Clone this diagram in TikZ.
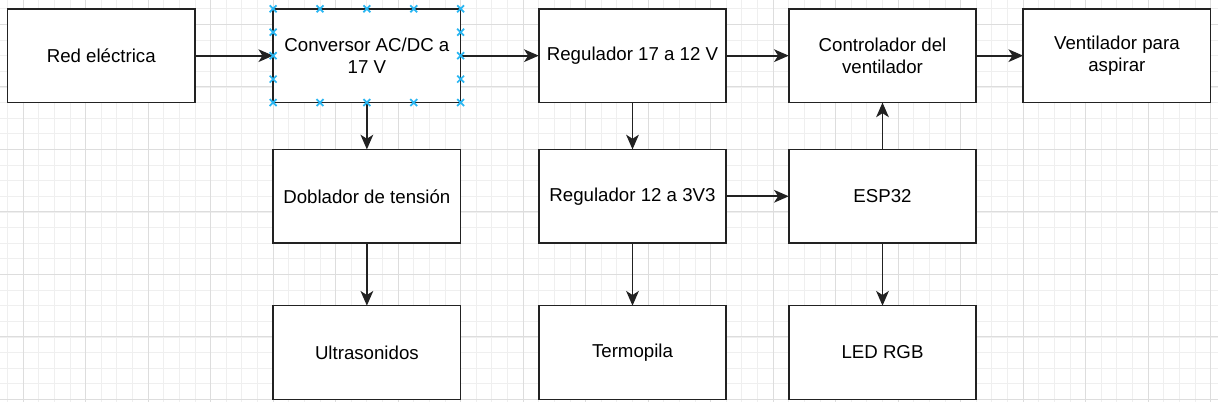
\documentclass[tikz,border=0pt]{standalone}
\usepackage{fontspec}
\setmainfont{Liberation Sans}
\usetikzlibrary{arrows.meta}

\definecolor{grid_minor_col}{HTML}{EFEFEF}
\definecolor{grid_major_col}{HTML}{DDDDDD}
\definecolor{handle_col}{HTML}{29B6F2}
\definecolor{stroke_col}{HTML}{222222}

\begin{document}
\begin{tikzpicture}[
x=1.171875pt, y=-1.171875pt,
font=\fontsize{14}{17}\selectfont,
block_square/.style={rectangle, draw=stroke_col, fill=white, line width=1.2pt, minimum width=140.6pt, minimum height=70.3pt, inner sep=2pt, outer sep=0pt, align=center},
out_arrow/.style={-{Stealth[length=11pt, width=9.5pt, inset=3pt]}, draw=stroke_col, line width=1.25pt},
grid_minor/.style={draw=grid_minor_col, line width=0.6pt},
grid_major/.style={draw=grid_major_col, line width=0.7pt},
handle_cross/.style={draw=handle_col, line width=1.3pt}
]

\useasboundingbox (-4.8,-5.63) rectangle (774.72,251.65);

% background grid
\foreach \gx in {0,10,...,770} \draw[grid_minor] (\gx,-5.63) -- (\gx,251.65);
\foreach \gy in {0,10,...,250} \draw[grid_minor] (-4.8,\gy) -- (774.72,\gy);
\foreach \gx in {10,50,...,770} \draw[grid_major] (\gx,-5.63) -- (\gx,251.65);
\foreach \gy in {10,50,...,250} \draw[grid_major] (-4.8,\gy) -- (774.72,\gy);

% \node[type](name_of_node) at (x,y) {node_text}

\node[block_square](red_electrica) at (60,30) {Red eléctrica};
\node[block_square](conversor) at (230,30) {Conversor AC/DC a\\17 V};
\node[block_square](regulador_17_12) at (400,30) {Regulador 17 a 12 V};
\node[block_square](controlador) at (560,30) {Controlador del\\ventilador};
\node[block_square](ventilador) at (710,30) {Ventilador para\\aspirar};

\node[block_square](doblador) at (230,120) {Doblador de tensión};
\node[block_square](regulador_12_3v3) at (400,120) {Regulador 12 a 3V3};
\node[block_square](esp32) at (560,120) {ESP32};

\node[block_square](ultrasonidos) at (230,220) {Ultrasonidos};
\node[block_square](termopila) at (400,220) {Termopila};
\node[block_square](led_rgb) at (560,220) {LED RGB};

% \draw[->](name_of_node.direction) -- (name_of_node.direction)

\draw[out_arrow](red_electrica) -- (conversor);
\draw[out_arrow](conversor) -- (regulador_17_12);
\draw[out_arrow](regulador_17_12) -- (controlador);
\draw[out_arrow](controlador) -- (ventilador);

\draw[out_arrow](conversor) -- (doblador);
\draw[out_arrow](doblador) -- (ultrasonidos);

\draw[out_arrow](regulador_17_12) -- (regulador_12_3v3);
\draw[out_arrow](regulador_12_3v3) -- (esp32);
\draw[out_arrow](regulador_12_3v3) -- (termopila);

\draw[out_arrow](esp32) -- (controlador);
\draw[out_arrow](esp32) -- (led_rgb);

% selection handles on the converter box
\foreach \hx in {170,200,230,260,290} {
  \foreach \hy in {0,60} {
    \draw[handle_cross] (\hx-2.2,\hy-2.2) -- (\hx+2.2,\hy+2.2) (\hx-2.2,\hy+2.2) -- (\hx+2.2,\hy-2.2);
  }
}
\foreach \hy in {15,30,45} {
  \foreach \hx in {170,290} {
    \draw[handle_cross] (\hx-2.2,\hy-2.2) -- (\hx+2.2,\hy+2.2) (\hx-2.2,\hy+2.2) -- (\hx+2.2,\hy-2.2);
  }
}

\end{tikzpicture}
\end{document}
